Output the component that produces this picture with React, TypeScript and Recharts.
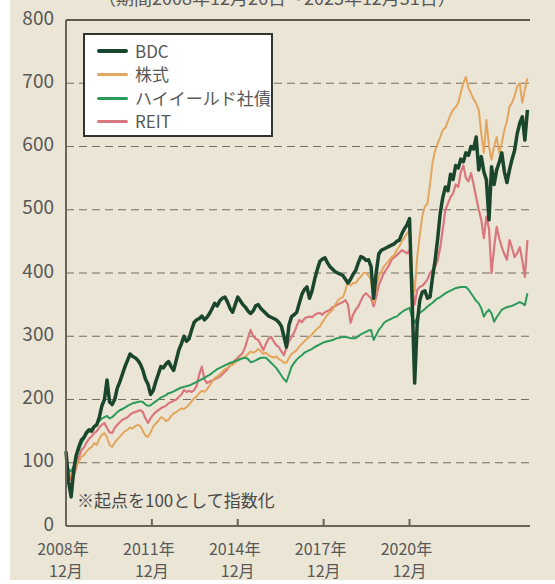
import React from 'react';
import { LineChart, Line, XAxis, YAxis, CartesianGrid, ReferenceLine } from 'recharts';

// Month index 0 = 2008/12, 180 = 2023/12
const bdc = [
  118, 70, 46, 88, 112, 125, 136, 140, 148, 152,
  150, 157, 160, 172, 190, 200, 231, 196, 192, 200,
  218, 228, 240, 252, 262, 272, 268, 266, 262, 256,
  246, 232, 224, 208, 214, 228, 240, 252, 250, 256,
  260, 252, 246, 262, 278, 288, 300, 292, 296, 310,
  322, 326, 328, 332, 326, 330, 336, 344, 352, 348,
  356, 360, 362, 354, 344, 338, 350, 362, 356, 350,
  346, 340, 336, 340, 348, 350, 344, 340, 336, 332,
  330, 328, 326, 322, 316, 300, 283, 318, 331, 334,
  338, 352, 366, 374, 378, 360, 372, 390, 405, 418,
  422, 424, 416, 410, 406, 402, 400, 398, 396, 390,
  384, 390, 398, 404, 416, 426, 424, 420, 421, 410,
  360, 400, 430, 436, 438, 440, 442, 444, 446, 450,
  452, 462, 470, 476, 486, 360, 226, 320, 357, 370,
  372, 360, 362, 394, 420, 455, 495, 520, 536, 530,
  556, 548, 570, 566, 580, 576, 590, 586, 600, 596,
  615, 563, 584, 560, 547, 484, 568, 540, 563, 575,
  590, 560, 543, 563, 580, 594, 620, 637, 647, 610,
  658,
];

const stocks = [
  100, 88, 78, 86, 95, 102, 109, 112, 118, 122,
  125, 131, 128, 138, 144, 147, 140, 128, 125, 132,
  137, 141, 146, 150, 152, 156, 154, 158, 160, 158,
  150, 143, 141, 148, 157, 162, 166, 172, 170, 166,
  168, 174, 178, 180, 183, 186, 185, 188, 192, 197,
  202, 205, 210, 214, 212, 216, 222, 228, 234, 236,
  240, 244, 248, 250, 254, 255, 258, 262, 264, 266,
  268, 272, 276, 274, 276, 280, 276, 272, 274, 270,
  268, 266, 268, 264, 262, 258, 258, 266, 272, 275,
  278, 284, 288, 292, 296, 299, 303, 308, 312, 315,
  322, 328, 334, 338, 342, 350, 356, 360, 362, 372,
  389, 380, 384, 384, 390, 394, 400, 400, 396, 389,
  352, 375, 394, 402, 410, 415, 420, 425, 428, 436,
  442, 450, 456, 462, 468, 400, 370, 425, 460, 490,
  505, 510, 540, 575, 594, 605, 615, 626, 630, 640,
  650, 658, 662, 669, 685, 700, 710, 692, 684, 675,
  668, 658, 620, 590, 642, 600, 579, 600, 615, 590,
  605, 626, 640, 663, 669, 680, 695, 700, 669, 690,
  708,
];

const highYield = [
  100, 90, 86, 95, 108, 120, 130, 138, 145, 150,
  154, 158, 162, 166, 170, 172, 174, 170, 172, 176,
  180, 183, 185, 187, 190, 192, 194, 195, 196, 197,
  196, 192, 190, 191, 194, 197, 200, 203, 205, 207,
  210, 211, 213, 215, 217, 219, 220, 221, 222, 224,
  226, 228, 230, 232, 234, 237, 239, 242, 245, 248,
  250, 252, 254, 256, 258, 259, 261, 262, 264, 265,
  266, 264, 259, 260, 262, 264, 266, 266, 266, 262,
  258, 254, 250, 244, 238, 232, 228, 240, 252, 258,
  263, 267, 270, 274, 276, 278, 280, 283, 285, 287,
  289, 291, 292, 293, 294, 296, 297, 298, 299, 299,
  298, 297, 297, 297, 300, 303, 305, 307, 309, 310,
  294, 302, 310, 315, 321, 324, 326, 328, 330, 331,
  335, 338, 341, 343, 345, 330, 321, 330, 337, 340,
  343, 347, 350, 353, 357, 360, 362, 365, 368, 370,
  372, 374, 376, 377, 378, 378, 378, 374, 368, 362,
  356, 352, 344, 331, 338, 342, 336, 323, 330, 336,
  342, 344, 346, 347, 348, 350, 352, 354, 352, 349,
  368,
];

const reit = [
  100, 82, 73, 78, 92, 108, 120, 124, 132, 138,
  142, 147, 150, 156, 160, 163, 155, 148, 147, 155,
  160, 164, 168, 170, 172, 176, 179, 180, 182, 183,
  180, 170, 163, 170, 176, 180, 183, 186, 188, 190,
  194, 196, 198, 200, 204, 208, 215, 212, 214, 212,
  215, 222, 240, 252, 232, 226, 228, 230, 232, 234,
  236, 240, 244, 248, 254, 258, 262, 266, 270, 274,
  284, 298, 310, 300, 296, 294, 286, 278, 288, 296,
  299, 292, 286, 283, 276, 270, 282, 292, 299, 306,
  316, 326, 322, 328, 330, 331, 330, 334, 336, 337,
  334, 338, 340, 342, 346, 348, 350, 352, 354, 357,
  350, 321, 334, 342, 347, 356, 364, 368, 364, 360,
  347, 362, 380, 390, 400, 406, 412, 421, 425, 428,
  432, 436, 434, 431, 436, 380, 350, 373, 378, 380,
  384, 390, 400, 405, 410, 420, 441, 470, 500, 510,
  520, 526, 540, 536, 560, 570, 550, 545, 558, 540,
  520, 500, 484, 455, 489, 470, 400, 440, 473, 455,
  441, 430, 421, 452, 440, 425, 431, 441, 420, 394,
  452,
];

const seriesNames = ['BDC', '株式', 'ハイイールド社債', 'REIT'];
const seriesColors = ['#1a462d', '#e3a65e', '#2b9a5a', '#da767e'];
const seriesWidths = [3.5, 2, 2, 2.2];

const yTicks = [0, 100, 200, 300, 400, 500, 600, 700, 800];
const xTicks = [0, 33.5, 67, 100.5, 134];
const xTickYears = ['2008年', '2011年', '2014年', '2017年', '2020年'];
const xTickMonth = '12月';

const titleText = '（期間2008年12月26日～2023年12月31日）';
const noteText = '※起点を100として指数化';

const data = bdc.map((v, i) => ({
  m: i,
  bdc: v,
  stocks: stocks[i],
  highYield: highYield[i],
  reit: reit[i],
}));

const FONT = '"Noto Sans CJK JP", "Noto Sans", sans-serif';
const TEXT = '#585858';
const AXIS = '#6a645a';

const YTick = (props: any) => {
  const { y, payload } = props;
  return (
    <text x={54} y={y} dy={4.5} textAnchor="end" fontSize={19} fill={TEXT} fontFamily={FONT}>
      {payload.value}
    </text>
  );
};

const XTick = (props: any) => {
  const { x, payload } = props;
  const idx = xTicks.indexOf(payload.value);
  return (
    <g>
      {idx > 0 && <line x1={x} x2={x} y1={526} y2={519} stroke={AXIS} strokeWidth={2} />}
      <text y={555} textAnchor="middle" fontSize={16} fill={TEXT} fontFamily={FONT}>
        <tspan x={x - 3}>{xTickYears[idx]}</tspan>
        <tspan x={x} dy={22}>{xTickMonth}</tspan>
      </text>
    </g>
  );
};

const legendRowsY = [16, 39, 63, 86];
const legendLineH = [4, 3, 3, 3];

export default function App() {
  return (
    <div style={{ position: 'absolute', left: 0, top: 0, width: 555, height: 584, background: '#ffffff', overflow: 'hidden' }}>
      <div style={{ position: 'absolute', left: 10, top: 0, width: 545, height: 580, background: '#ebe5d5' }} />
      <div
        style={{
          position: 'absolute', left: 98, top: -12, fontSize: 18, lineHeight: '18px',
          color: TEXT, fontFamily: FONT, whiteSpace: 'nowrap',
        }}
      >
        {titleText}
      </div>
      <div style={{ position: 'absolute', left: 0, top: 0 }}>
        <LineChart width={555} height={584} data={data} margin={{ top: 20, right: 25, bottom: 0, left: 6 }}>
          <CartesianGrid vertical={false} stroke="#736d63" strokeDasharray="8 5" strokeWidth={1.2} />
          <XAxis
            dataKey="m"
            type="number"
            domain={[0, 181]}
            ticks={xTicks}
            interval={0}
            height={58}
            axisLine={{ stroke: AXIS, strokeWidth: 2 }}
            tickLine={false}
            tick={<XTick />}
          />
          <YAxis
            domain={[0, 800]}
            ticks={yTicks}
            interval={0}
            width={60}
            axisLine={{ stroke: AXIS, strokeWidth: 2 }}
            tickLine={false}
            tick={<YTick />}
          />
          <ReferenceLine y={800} stroke="#5c574f" strokeWidth={2} />
          <Line type="linear" dataKey="reit" stroke={seriesColors[3]} strokeWidth={seriesWidths[3]} dot={false} isAnimationActive={false} strokeLinejoin="round" />
          <Line type="linear" dataKey="stocks" stroke={seriesColors[1]} strokeWidth={seriesWidths[1]} dot={false} isAnimationActive={false} strokeLinejoin="round" />
          <Line type="linear" dataKey="highYield" stroke={seriesColors[2]} strokeWidth={seriesWidths[2]} dot={false} isAnimationActive={false} strokeLinejoin="round" />
          <Line type="linear" dataKey="bdc" stroke={seriesColors[0]} strokeWidth={seriesWidths[0]} dot={false} isAnimationActive={false} strokeLinejoin="round" />
        </LineChart>
      </div>
      <div
        style={{
          position: 'absolute', left: 83, top: 33, width: 190, height: 104, boxSizing: 'border-box',
          border: '2px solid #333333', background: '#ffffff',
        }}
      >
        {seriesNames.map((name, i) => (
          <div key={name} style={{ position: 'absolute', left: 0, top: legendRowsY[i] - 10, height: 20, width: 186 }}>
            <div
              style={{
                position: 'absolute', left: 12, top: 10 - legendLineH[i] / 2, width: 31, height: legendLineH[i],
                background: seriesColors[i], borderRadius: 2,
              }}
            />
            <div
              style={{
                position: 'absolute', left: 50, top: 0, fontSize: 17, lineHeight: '20px',
                color: TEXT, fontFamily: FONT, whiteSpace: 'nowrap',
              }}
            >
              {name}
            </div>
          </div>
        ))}
      </div>
      <div
        style={{
          position: 'absolute', left: 77, top: 491, fontSize: 17, lineHeight: '17px',
          color: '#4a4a4a', fontFamily: FONT, whiteSpace: 'nowrap',
        }}
      >
        {noteText}
      </div>
    </div>
  );
}
